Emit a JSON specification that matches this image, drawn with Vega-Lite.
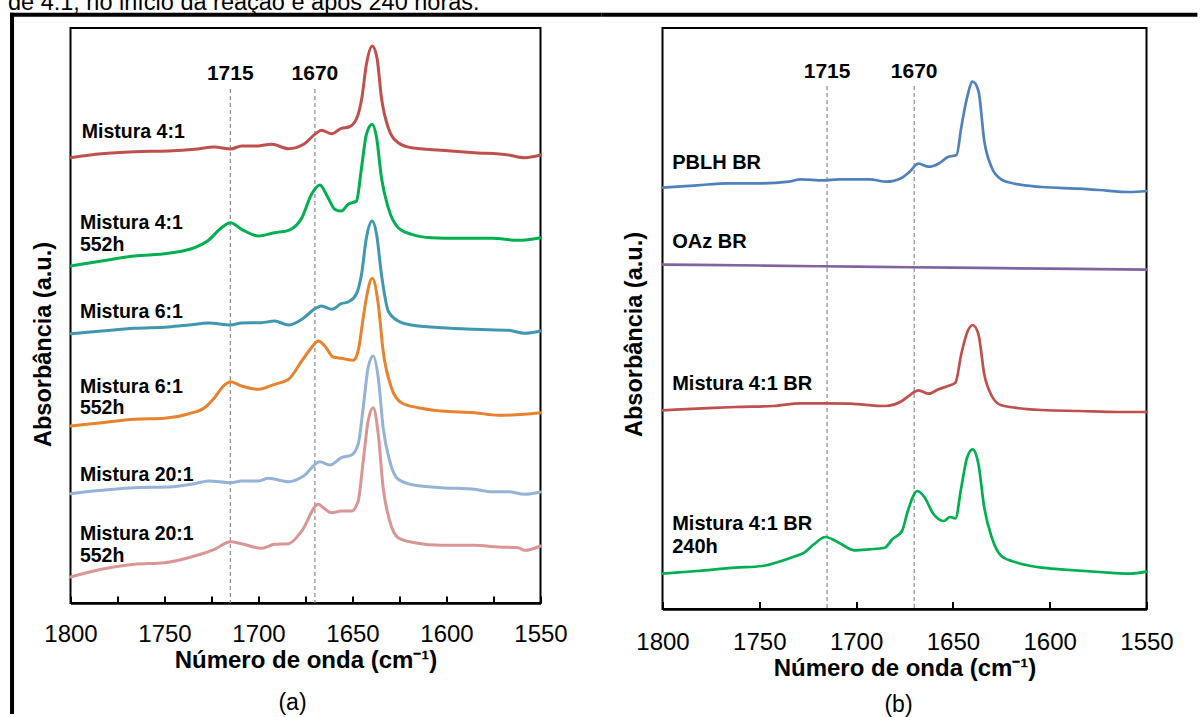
{
  "$schema": "https://vega.github.io/schema/vega-lite/v6.json",
  "padding": {"left": 6.5, "top": -9, "right": 0, "bottom": 0},
  "background": "white",
  "title": {
    "text": "de 4:1, no início da reação e após 240 horas.",
    "anchor": "start",
    "frame": "bounds",
    "fontSize": 23.5,
    "fontWeight": "normal",
    "color": "black",
    "baseline": "alphabetic",
    "offset": -24,
    "dx": 1
  },
  "config": {
    "font": "Liberation Sans",
    "view": {"stroke": "black", "strokeWidth": 2}
  },
  "spacing": 122,
  "bounds": "flush",
  "resolve": {"scale": {"x": "independent", "y": "independent", "color": "independent"}},
  "datasets": {
    "marcadores": [{"onda": 1715}, {"onda": 1670}],
    "espectros_a": [
      {"amostra": "Mistura 4:1", "onda": 1800, "abs": 445.3},
      {"amostra": "Mistura 4:1", "onda": 1783.5, "abs": 449.3},
      {"amostra": "Mistura 4:1", "onda": 1766, "abs": 451.3},
      {"amostra": "Mistura 4:1", "onda": 1748, "abs": 452},
      {"amostra": "Mistura 4:1", "onda": 1734, "abs": 453.7},
      {"amostra": "Mistura 4:1", "onda": 1723.4, "abs": 456},
      {"amostra": "Mistura 4:1", "onda": 1714.9, "abs": 454},
      {"amostra": "Mistura 4:1", "onda": 1709, "abs": 457},
      {"amostra": "Mistura 4:1", "onda": 1702, "abs": 457},
      {"amostra": "Mistura 4:1", "onda": 1693, "abs": 458.7},
      {"amostra": "Mistura 4:1", "onda": 1684, "abs": 454.3},
      {"amostra": "Mistura 4:1", "onda": 1676, "abs": 458.7},
      {"amostra": "Mistura 4:1", "onda": 1669, "abs": 470.3},
      {"amostra": "Mistura 4:1", "onda": 1666.5, "abs": 472.7},
      {"amostra": "Mistura 4:1", "onda": 1661, "abs": 469.3},
      {"amostra": "Mistura 4:1", "onda": 1656, "abs": 474.7},
      {"amostra": "Mistura 4:1", "onda": 1652, "abs": 476},
      {"amostra": "Mistura 4:1", "onda": 1648, "abs": 483.7},
      {"amostra": "Mistura 4:1", "onda": 1645, "abs": 505.3},
      {"amostra": "Mistura 4:1", "onda": 1642.6, "abs": 538.7},
      {"amostra": "Mistura 4:1", "onda": 1639.5, "abs": 557},
      {"amostra": "Mistura 4:1", "onda": 1637, "abs": 545.3},
      {"amostra": "Mistura 4:1", "onda": 1634.6, "abs": 505.3},
      {"amostra": "Mistura 4:1", "onda": 1631, "abs": 475.3},
      {"amostra": "Mistura 4:1", "onda": 1625.7, "abs": 460.3},
      {"amostra": "Mistura 4:1", "onda": 1618.6, "abs": 455.3},
      {"amostra": "Mistura 4:1", "onda": 1602.7, "abs": 452.7},
      {"amostra": "Mistura 4:1", "onda": 1585, "abs": 450.3},
      {"amostra": "Mistura 4:1", "onda": 1567, "abs": 448},
      {"amostra": "Mistura 4:1", "onda": 1558.5, "abs": 445.3},
      {"amostra": "Mistura 4:1", "onda": 1550, "abs": 448},

      {"amostra": "Mistura 4:1 552h", "onda": 1800, "abs": 337},
      {"amostra": "Mistura 4:1 552h", "onda": 1783.5, "abs": 342},
      {"amostra": "Mistura 4:1 552h", "onda": 1766, "abs": 347},
      {"amostra": "Mistura 4:1 552h", "onda": 1748, "abs": 349.7},
      {"amostra": "Mistura 4:1 552h", "onda": 1734, "abs": 355.3},
      {"amostra": "Mistura 4:1 552h", "onda": 1726.6, "abs": 362.7},
      {"amostra": "Mistura 4:1 552h", "onda": 1719.7, "abs": 375.3},
      {"amostra": "Mistura 4:1 552h", "onda": 1714.9, "abs": 380.3},
      {"amostra": "Mistura 4:1 552h", "onda": 1709, "abs": 373.7},
      {"amostra": "Mistura 4:1 552h", "onda": 1700, "abs": 367},
      {"amostra": "Mistura 4:1 552h", "onda": 1691.5, "abs": 370.3},
      {"amostra": "Mistura 4:1 552h", "onda": 1684, "abs": 372.7},
      {"amostra": "Mistura 4:1 552h", "onda": 1677, "abs": 385},
      {"amostra": "Mistura 4:1 552h", "onda": 1671.8, "abs": 408.7},
      {"amostra": "Mistura 4:1 552h", "onda": 1667.4, "abs": 418},
      {"amostra": "Mistura 4:1 552h", "onda": 1663, "abs": 405.3},
      {"amostra": "Mistura 4:1 552h", "onda": 1659.4, "abs": 393.7},
      {"amostra": "Mistura 4:1 552h", "onda": 1655.9, "abs": 392},
      {"amostra": "Mistura 4:1 552h", "onda": 1652.3, "abs": 398.7},
      {"amostra": "Mistura 4:1 552h", "onda": 1647.9, "abs": 402},
      {"amostra": "Mistura 4:1 552h", "onda": 1645.2, "abs": 435.3},
      {"amostra": "Mistura 4:1 552h", "onda": 1642.6, "abs": 468.7},
      {"amostra": "Mistura 4:1 552h", "onda": 1639.5, "abs": 478.7},
      {"amostra": "Mistura 4:1 552h", "onda": 1637.2, "abs": 465.3},
      {"amostra": "Mistura 4:1 552h", "onda": 1634.6, "abs": 425.3},
      {"amostra": "Mistura 4:1 552h", "onda": 1631, "abs": 395.3},
      {"amostra": "Mistura 4:1 552h", "onda": 1625.7, "abs": 375.3},
      {"amostra": "Mistura 4:1 552h", "onda": 1618.6, "abs": 368.7},
      {"amostra": "Mistura 4:1 552h", "onda": 1608, "abs": 365.3},
      {"amostra": "Mistura 4:1 552h", "onda": 1593.8, "abs": 364.7},
      {"amostra": "Mistura 4:1 552h", "onda": 1576, "abs": 364.7},
      {"amostra": "Mistura 4:1 552h", "onda": 1561.9, "abs": 362.7},
      {"amostra": "Mistura 4:1 552h", "onda": 1550, "abs": 365.3},

      {"amostra": "Mistura 6:1", "onda": 1800, "abs": 269.3},
      {"amostra": "Mistura 6:1", "onda": 1783.5, "abs": 272},
      {"amostra": "Mistura 6:1", "onda": 1766, "abs": 274.7},
      {"amostra": "Mistura 6:1", "onda": 1748, "abs": 276},
      {"amostra": "Mistura 6:1", "onda": 1737, "abs": 278},
      {"amostra": "Mistura 6:1", "onda": 1726.6, "abs": 280},
      {"amostra": "Mistura 6:1", "onda": 1714.9, "abs": 278},
      {"amostra": "Mistura 6:1", "onda": 1709, "abs": 280},
      {"amostra": "Mistura 6:1", "onda": 1698.4, "abs": 280.3},
      {"amostra": "Mistura 6:1", "onda": 1691.5, "abs": 282},
      {"amostra": "Mistura 6:1", "onda": 1684, "abs": 278},
      {"amostra": "Mistura 6:1", "onda": 1677, "abs": 283.7},
      {"amostra": "Mistura 6:1", "onda": 1669, "abs": 295.3},
      {"amostra": "Mistura 6:1", "onda": 1666.5, "abs": 297},
      {"amostra": "Mistura 6:1", "onda": 1661, "abs": 293.7},
      {"amostra": "Mistura 6:1", "onda": 1656, "abs": 299.3},
      {"amostra": "Mistura 6:1", "onda": 1652, "abs": 301.3},
      {"amostra": "Mistura 6:1", "onda": 1648, "abs": 308.7},
      {"amostra": "Mistura 6:1", "onda": 1645.2, "abs": 328.7},
      {"amostra": "Mistura 6:1", "onda": 1642.6, "abs": 365.3},
      {"amostra": "Mistura 6:1", "onda": 1639.5, "abs": 382},
      {"amostra": "Mistura 6:1", "onda": 1637.2, "abs": 368.7},
      {"amostra": "Mistura 6:1", "onda": 1634.6, "abs": 328.7},
      {"amostra": "Mistura 6:1", "onda": 1631, "abs": 292},
      {"amostra": "Mistura 6:1", "onda": 1625.7, "abs": 282},
      {"amostra": "Mistura 6:1", "onda": 1618.6, "abs": 278},
      {"amostra": "Mistura 6:1", "onda": 1602.7, "abs": 275.3},
      {"amostra": "Mistura 6:1", "onda": 1585, "abs": 273.7},
      {"amostra": "Mistura 6:1", "onda": 1567, "abs": 272.7},
      {"amostra": "Mistura 6:1", "onda": 1558.5, "abs": 269.7},
      {"amostra": "Mistura 6:1", "onda": 1550, "abs": 272},

      {"amostra": "Mistura 6:1 552h", "onda": 1800, "abs": 177},
      {"amostra": "Mistura 6:1 552h", "onda": 1783.5, "abs": 180.3},
      {"amostra": "Mistura 6:1 552h", "onda": 1766, "abs": 183.7},
      {"amostra": "Mistura 6:1 552h", "onda": 1750, "abs": 184.7},
      {"amostra": "Mistura 6:1 552h", "onda": 1737, "abs": 189.3},
      {"amostra": "Mistura 6:1 552h", "onda": 1728.7, "abs": 195.3},
      {"amostra": "Mistura 6:1 552h", "onda": 1723.4, "abs": 205.3},
      {"amostra": "Mistura 6:1 552h", "onda": 1718.6, "abs": 217},
      {"amostra": "Mistura 6:1 552h", "onda": 1714.9, "abs": 221.3},
      {"amostra": "Mistura 6:1 552h", "onda": 1709, "abs": 217},
      {"amostra": "Mistura 6:1 552h", "onda": 1700, "abs": 213.7},
      {"amostra": "Mistura 6:1 552h", "onda": 1691.5, "abs": 218.7},
      {"amostra": "Mistura 6:1 552h", "onda": 1684, "abs": 223.7},
      {"amostra": "Mistura 6:1 552h", "onda": 1677, "abs": 242},
      {"amostra": "Mistura 6:1 552h", "onda": 1672, "abs": 255},
      {"amostra": "Mistura 6:1 552h", "onda": 1668.2, "abs": 262},
      {"amostra": "Mistura 6:1 552h", "onda": 1664.7, "abs": 257},
      {"amostra": "Mistura 6:1 552h", "onda": 1660.3, "abs": 246},
      {"amostra": "Mistura 6:1 552h", "onda": 1655.9, "abs": 244.7},
      {"amostra": "Mistura 6:1 552h", "onda": 1649.6, "abs": 242.7},
      {"amostra": "Mistura 6:1 552h", "onda": 1647, "abs": 252},
      {"amostra": "Mistura 6:1 552h", "onda": 1644.3, "abs": 285.3},
      {"amostra": "Mistura 6:1 552h", "onda": 1642.6, "abs": 305.3},
      {"amostra": "Mistura 6:1 552h", "onda": 1639.5, "abs": 324.7},
      {"amostra": "Mistura 6:1 552h", "onda": 1636.3, "abs": 298.7},
      {"amostra": "Mistura 6:1 552h", "onda": 1633.7, "abs": 252},
      {"amostra": "Mistura 6:1 552h", "onda": 1629.3, "abs": 215.3},
      {"amostra": "Mistura 6:1 552h", "onda": 1624, "abs": 200.3},
      {"amostra": "Mistura 6:1 552h", "onda": 1615, "abs": 195.3},
      {"amostra": "Mistura 6:1 552h", "onda": 1602.7, "abs": 192},
      {"amostra": "Mistura 6:1 552h", "onda": 1585, "abs": 190.3},
      {"amostra": "Mistura 6:1 552h", "onda": 1572.5, "abs": 187.7},
      {"amostra": "Mistura 6:1 552h", "onda": 1558.5, "abs": 188.7},
      {"amostra": "Mistura 6:1 552h", "onda": 1550, "abs": 190.3},

      {"amostra": "Mistura 20:1", "onda": 1800, "abs": 109.3},
      {"amostra": "Mistura 20:1", "onda": 1783.5, "abs": 112.7},
      {"amostra": "Mistura 20:1", "onda": 1766, "abs": 115.3},
      {"amostra": "Mistura 20:1", "onda": 1748, "abs": 116},
      {"amostra": "Mistura 20:1", "onda": 1734, "abs": 119.3},
      {"amostra": "Mistura 20:1", "onda": 1726.6, "abs": 122},
      {"amostra": "Mistura 20:1", "onda": 1714.9, "abs": 120.3},
      {"amostra": "Mistura 20:1", "onda": 1709, "abs": 122},
      {"amostra": "Mistura 20:1", "onda": 1700, "abs": 122},
      {"amostra": "Mistura 20:1", "onda": 1694.7, "abs": 124.7},
      {"amostra": "Mistura 20:1", "onda": 1684, "abs": 121.3},
      {"amostra": "Mistura 20:1", "onda": 1676, "abs": 127},
      {"amostra": "Mistura 20:1", "onda": 1667.4, "abs": 141.3},
      {"amostra": "Mistura 20:1", "onda": 1662, "abs": 138},
      {"amostra": "Mistura 20:1", "onda": 1655.9, "abs": 145.3},
      {"amostra": "Mistura 20:1", "onda": 1650.5, "abs": 148},
      {"amostra": "Mistura 20:1", "onda": 1647, "abs": 158.7},
      {"amostra": "Mistura 20:1", "onda": 1644.3, "abs": 195.3},
      {"amostra": "Mistura 20:1", "onda": 1641.7, "abs": 235.3},
      {"amostra": "Mistura 20:1", "onda": 1639, "abs": 247},
      {"amostra": "Mistura 20:1", "onda": 1636.3, "abs": 225.3},
      {"amostra": "Mistura 20:1", "onda": 1633.7, "abs": 175.3},
      {"amostra": "Mistura 20:1", "onda": 1630.2, "abs": 142},
      {"amostra": "Mistura 20:1", "onda": 1625.7, "abs": 123.7},
      {"amostra": "Mistura 20:1", "onda": 1616.9, "abs": 117.7},
      {"amostra": "Mistura 20:1", "onda": 1602.7, "abs": 115.3},
      {"amostra": "Mistura 20:1", "onda": 1585, "abs": 113.7},
      {"amostra": "Mistura 20:1", "onda": 1576, "abs": 111.3},
      {"amostra": "Mistura 20:1", "onda": 1567.2, "abs": 111.3},
      {"amostra": "Mistura 20:1", "onda": 1558.4, "abs": 108.7},
      {"amostra": "Mistura 20:1", "onda": 1550, "abs": 111},

      {"amostra": "Mistura 20:1 552h", "onda": 1800, "abs": 26},
      {"amostra": "Mistura 20:1 552h", "onda": 1783.5, "abs": 33.7},
      {"amostra": "Mistura 20:1 552h", "onda": 1766, "abs": 38.7},
      {"amostra": "Mistura 20:1 552h", "onda": 1750, "abs": 40.3},
      {"amostra": "Mistura 20:1 552h", "onda": 1734, "abs": 47},
      {"amostra": "Mistura 20:1 552h", "onda": 1723.4, "abs": 53.7},
      {"amostra": "Mistura 20:1 552h", "onda": 1714.9, "abs": 61.3},
      {"amostra": "Mistura 20:1 552h", "onda": 1709, "abs": 59.3},
      {"amostra": "Mistura 20:1 552h", "onda": 1698.4, "abs": 54.7},
      {"amostra": "Mistura 20:1 552h", "onda": 1691.5, "abs": 58.7},
      {"amostra": "Mistura 20:1 552h", "onda": 1684, "abs": 59.3},
      {"amostra": "Mistura 20:1 552h", "onda": 1677, "abs": 72},
      {"amostra": "Mistura 20:1 552h", "onda": 1668.2, "abs": 98.7},
      {"amostra": "Mistura 20:1 552h", "onda": 1665.6, "abs": 95.3},
      {"amostra": "Mistura 20:1 552h", "onda": 1661, "abs": 90.3},
      {"amostra": "Mistura 20:1 552h", "onda": 1655.9, "abs": 92},
      {"amostra": "Mistura 20:1 552h", "onda": 1650.5, "abs": 92},
      {"amostra": "Mistura 20:1 552h", "onda": 1647, "abs": 102},
      {"amostra": "Mistura 20:1 552h", "onda": 1644.3, "abs": 142},
      {"amostra": "Mistura 20:1 552h", "onda": 1641.7, "abs": 182},
      {"amostra": "Mistura 20:1 552h", "onda": 1639, "abs": 195.3},
      {"amostra": "Mistura 20:1 552h", "onda": 1636.3, "abs": 168.7},
      {"amostra": "Mistura 20:1 552h", "onda": 1633.7, "abs": 115.3},
      {"amostra": "Mistura 20:1 552h", "onda": 1630.2, "abs": 82},
      {"amostra": "Mistura 20:1 552h", "onda": 1625.7, "abs": 65.3},
      {"amostra": "Mistura 20:1 552h", "onda": 1616.9, "abs": 60.3},
      {"amostra": "Mistura 20:1 552h", "onda": 1602.7, "abs": 57.7},
      {"amostra": "Mistura 20:1 552h", "onda": 1585, "abs": 57.7},
      {"amostra": "Mistura 20:1 552h", "onda": 1572.5, "abs": 56},
      {"amostra": "Mistura 20:1 552h", "onda": 1561.9, "abs": 55.3},
      {"amostra": "Mistura 20:1 552h", "onda": 1558.4, "abs": 52.7},
      {"amostra": "Mistura 20:1 552h", "onda": 1550, "abs": 57}
    ],
    "espectros_b": [
      {"amostra": "PBLH BR", "onda": 1800, "abs": 421.3},
      {"amostra": "PBLH BR", "onda": 1782.1, "abs": 423.7},
      {"amostra": "PBLH BR", "onda": 1766.3, "abs": 425.7},
      {"amostra": "PBLH BR", "onda": 1748.5, "abs": 425.7},
      {"amostra": "PBLH BR", "onda": 1734.7, "abs": 427.3},
      {"amostra": "PBLH BR", "onda": 1728.7, "abs": 429.7},
      {"amostra": "PBLH BR", "onda": 1716.8, "abs": 428.7},
      {"amostra": "PBLH BR", "onda": 1708.9, "abs": 429.7},
      {"amostra": "PBLH BR", "onda": 1693.1, "abs": 429.7},
      {"amostra": "PBLH BR", "onda": 1684.3, "abs": 427.3},
      {"amostra": "PBLH BR", "onda": 1676.3, "abs": 431.3},
      {"amostra": "PBLH BR", "onda": 1672.4, "abs": 437.3},
      {"amostra": "PBLH BR", "onda": 1667.8, "abs": 445.3},
      {"amostra": "PBLH BR", "onda": 1662.5, "abs": 442.3},
      {"amostra": "PBLH BR", "onda": 1657.5, "abs": 445.3},
      {"amostra": "PBLH BR", "onda": 1652.6, "abs": 452},
      {"amostra": "PBLH BR", "onda": 1648.1, "abs": 454},
      {"amostra": "PBLH BR", "onda": 1645.7, "abs": 481.3},
      {"amostra": "PBLH BR", "onda": 1642.7, "abs": 511.3},
      {"amostra": "PBLH BR", "onda": 1639.8, "abs": 527.3},
      {"amostra": "PBLH BR", "onda": 1636.8, "abs": 518},
      {"amostra": "PBLH BR", "onda": 1633.8, "abs": 468},
      {"amostra": "PBLH BR", "onda": 1629.9, "abs": 441.3},
      {"amostra": "PBLH BR", "onda": 1625, "abs": 429.7},
      {"amostra": "PBLH BR", "onda": 1618, "abs": 425.3},
      {"amostra": "PBLH BR", "onda": 1604.2, "abs": 422},
      {"amostra": "PBLH BR", "onda": 1584.4, "abs": 420.3},
      {"amostra": "PBLH BR", "onda": 1574.5, "abs": 419},
      {"amostra": "PBLH BR", "onda": 1558.7, "abs": 417},
      {"amostra": "PBLH BR", "onda": 1550, "abs": 418},

      {"amostra": "OAz BR", "onda": 1800, "abs": 344.3},
      {"amostra": "OAz BR", "onda": 1750, "abs": 343.5},
      {"amostra": "OAz BR", "onda": 1700, "abs": 342.3},
      {"amostra": "OAz BR", "onda": 1650, "abs": 341.3},
      {"amostra": "OAz BR", "onda": 1600, "abs": 340.3},
      {"amostra": "OAz BR", "onda": 1550, "abs": 339.3},

      {"amostra": "Mistura 4:1 BR", "onda": 1800, "abs": 198.7},
      {"amostra": "Mistura 4:1 BR", "onda": 1782.1, "abs": 200.3},
      {"amostra": "Mistura 4:1 BR", "onda": 1762.3, "abs": 202},
      {"amostra": "Mistura 4:1 BR", "onda": 1742.6, "abs": 203},
      {"amostra": "Mistura 4:1 BR", "onda": 1728.7, "abs": 205.7},
      {"amostra": "Mistura 4:1 BR", "onda": 1716.8, "abs": 205.7},
      {"amostra": "Mistura 4:1 BR", "onda": 1703, "abs": 205.3},
      {"amostra": "Mistura 4:1 BR", "onda": 1685.2, "abs": 203},
      {"amostra": "Mistura 4:1 BR", "onda": 1676.3, "abs": 208},
      {"amostra": "Mistura 4:1 BR", "onda": 1672.4, "abs": 213.7},
      {"amostra": "Mistura 4:1 BR", "onda": 1667.8, "abs": 218.7},
      {"amostra": "Mistura 4:1 BR", "onda": 1662.5, "abs": 215.3},
      {"amostra": "Mistura 4:1 BR", "onda": 1657.5, "abs": 219.7},
      {"amostra": "Mistura 4:1 BR", "onda": 1652.6, "abs": 223},
      {"amostra": "Mistura 4:1 BR", "onda": 1648.7, "abs": 226.3},
      {"amostra": "Mistura 4:1 BR", "onda": 1645.7, "abs": 254.7},
      {"amostra": "Mistura 4:1 BR", "onda": 1642.7, "abs": 276.3},
      {"amostra": "Mistura 4:1 BR", "onda": 1639.8, "abs": 284},
      {"amostra": "Mistura 4:1 BR", "onda": 1636.8, "abs": 274.7},
      {"amostra": "Mistura 4:1 BR", "onda": 1633.8, "abs": 234.7},
      {"amostra": "Mistura 4:1 BR", "onda": 1629.9, "abs": 213},
      {"amostra": "Mistura 4:1 BR", "onda": 1625, "abs": 203.7},
      {"amostra": "Mistura 4:1 BR", "onda": 1618, "abs": 201.3},
      {"amostra": "Mistura 4:1 BR", "onda": 1604.2, "abs": 199},
      {"amostra": "Mistura 4:1 BR", "onda": 1584.4, "abs": 198},
      {"amostra": "Mistura 4:1 BR", "onda": 1564.7, "abs": 197},
      {"amostra": "Mistura 4:1 BR", "onda": 1550, "abs": 197},

      {"amostra": "Mistura 4:1 BR 240h", "onda": 1800, "abs": 35.3},
      {"amostra": "Mistura 4:1 BR 240h", "onda": 1782.1, "abs": 38},
      {"amostra": "Mistura 4:1 BR 240h", "onda": 1762.3, "abs": 41.3},
      {"amostra": "Mistura 4:1 BR 240h", "onda": 1748.5, "abs": 43},
      {"amostra": "Mistura 4:1 BR 240h", "onda": 1738.6, "abs": 48},
      {"amostra": "Mistura 4:1 BR 240h", "onda": 1732.6, "abs": 52},
      {"amostra": "Mistura 4:1 BR 240h", "onda": 1726.8, "abs": 56.3},
      {"amostra": "Mistura 4:1 BR 240h", "onda": 1721.8, "abs": 64.7},
      {"amostra": "Mistura 4:1 BR 240h", "onda": 1715.9, "abs": 72},
      {"amostra": "Mistura 4:1 BR 240h", "onda": 1708.9, "abs": 66.3},
      {"amostra": "Mistura 4:1 BR 240h", "onda": 1701, "abs": 58.7},
      {"amostra": "Mistura 4:1 BR 240h", "onda": 1693.1, "abs": 59.7},
      {"amostra": "Mistura 4:1 BR 240h", "onda": 1685.2, "abs": 61.3},
      {"amostra": "Mistura 4:1 BR 240h", "onda": 1681.3, "abs": 69.7},
      {"amostra": "Mistura 4:1 BR 240h", "onda": 1676.3, "abs": 78},
      {"amostra": "Mistura 4:1 BR 240h", "onda": 1673.3, "abs": 98},
      {"amostra": "Mistura 4:1 BR 240h", "onda": 1668.4, "abs": 118},
      {"amostra": "Mistura 4:1 BR 240h", "onda": 1664.5, "abs": 111.3},
      {"amostra": "Mistura 4:1 BR 240h", "onda": 1660.5, "abs": 96.3},
      {"amostra": "Mistura 4:1 BR 240h", "onda": 1654.6, "abs": 88},
      {"amostra": "Mistura 4:1 BR 240h", "onda": 1651.6, "abs": 92},
      {"amostra": "Mistura 4:1 BR 240h", "onda": 1648.7, "abs": 90.7},
      {"amostra": "Mistura 4:1 BR 240h", "onda": 1645.7, "abs": 121.3},
      {"amostra": "Mistura 4:1 BR 240h", "onda": 1642.7, "abs": 151.3},
      {"amostra": "Mistura 4:1 BR 240h", "onda": 1639.8, "abs": 159.7},
      {"amostra": "Mistura 4:1 BR 240h", "onda": 1636.8, "abs": 144.7},
      {"amostra": "Mistura 4:1 BR 240h", "onda": 1633.8, "abs": 101.3},
      {"amostra": "Mistura 4:1 BR 240h", "onda": 1629.9, "abs": 71.3},
      {"amostra": "Mistura 4:1 BR 240h", "onda": 1625, "abs": 53},
      {"amostra": "Mistura 4:1 BR 240h", "onda": 1618, "abs": 47},
      {"amostra": "Mistura 4:1 BR 240h", "onda": 1604.2, "abs": 41.3},
      {"amostra": "Mistura 4:1 BR 240h", "onda": 1594.3, "abs": 39.7},
      {"amostra": "Mistura 4:1 BR 240h", "onda": 1574.5, "abs": 37},
      {"amostra": "Mistura 4:1 BR 240h", "onda": 1558.7, "abs": 35.3},
      {"amostra": "Mistura 4:1 BR 240h", "onda": 1550, "abs": 37.3}
    ],
    "rotulos_a": [
      {"texto": "Mistura 4:1", "onda": 1794, "abs": 464.7},
      {"texto": "Mistura 4:1\n552h", "onda": 1795, "abs": 373.7},
      {"texto": "Mistura 6:1", "onda": 1795, "abs": 285.3},
      {"texto": "Mistura 6:1\n552h", "onda": 1795, "abs": 210.3},
      {"texto": "Mistura 20:1", "onda": 1795, "abs": 122},
      {"texto": "Mistura 20:1\n552h", "onda": 1795, "abs": 62.7}
    ],
    "rotulos_b": [
      {"texto": "PBLH BR", "onda": 1795, "abs": 439.7},
      {"texto": "OAz BR", "onda": 1795, "abs": 360.7},
      {"texto": "Mistura 4:1 BR", "onda": 1795, "abs": 218.7},
      {"texto": "Mistura 4:1 BR\n240h", "onda": 1795, "abs": 78.7}
    ]
  },
  "hconcat": [
    {
      "width": 470,
      "height": 575,
      "title": {"text": "(a)", "orient": "bottom", "anchor": "middle", "fontSize": 23, "fontWeight": "normal", "color": "black", "baseline": "alphabetic", "offset": -6, "dx": -13},
      "layer": [
        {
          "data": {"values": [{}]},
          "mark": {"type": "rule", "color": "black", "strokeWidth": 4, "strokeCap": "butt"},
          "encoding": {
            "x": {"datum": 1831.1, "type": "quantitative", "scale": {"domain": [1800, 1550], "nice": false, "zero": false}},
            "y": {"datum": 590.3, "type": "quantitative", "scale": {"domain": [0, 575], "nice": false}},
            "y2": {"datum": -111}
          }
        },
        {
          "data": {"values": [{}]},
          "mark": {"type": "rule", "color": "black", "strokeWidth": 4, "strokeCap": "butt"},
          "encoding": {
            "x": {"datum": 1832.2, "type": "quantitative", "scale": {"domain": [1800, 1550], "nice": false, "zero": false}},
            "x2": {"datum": 1517.5},
            "y": {"datum": 588.3, "type": "quantitative", "scale": {"domain": [0, 575], "nice": false}}
          }
        },
        {
          "data": {"name": "marcadores"},
          "mark": {"type": "rule", "color": "#808080", "strokeWidth": 1.1, "strokeDash": [4, 3]},
          "encoding": {
            "x": {"field": "onda", "type": "quantitative", "scale": {"domain": [1800, 1550], "nice": false, "zero": false}},
            "y": {"datum": 514, "type": "quantitative", "scale": {"domain": [0, 575], "nice": false}},
            "y2": {"datum": 0}
          }
        },
        {
          "data": {"name": "marcadores"},
          "mark": {"type": "text", "fontSize": 21, "fontWeight": "bold", "color": "black", "align": "center", "baseline": "alphabetic"},
          "encoding": {
            "x": {"field": "onda", "type": "quantitative", "scale": {"domain": [1800, 1550], "nice": false, "zero": false}},
            "y": {"datum": 523, "type": "quantitative", "scale": {"domain": [0, 575], "nice": false}},
            "text": {"field": "onda", "type": "quantitative", "format": "d"}
          }
        },
        {
          "data": {"name": "espectros_a"},
          "mark": {"type": "line", "strokeWidth": 3, "interpolate": "monotone", "strokeJoin": "round", "strokeCap": "round"},
          "encoding": {
            "x": {
              "field": "onda", "type": "quantitative",
              "scale": {"domain": [1800, 1550], "nice": false, "zero": false},
              "axis": {
                "values": [1800, 1775, 1750, 1725, 1700, 1675, 1650, 1625, 1600, 1575, 1550],
                "format": "d",
                "labelExpr": "datum.value % 50 === 0 ? datum.label : ''",
                "grid": false,
                "domainColor": "black", "domainWidth": 2.5,
                "tickColor": "black", "tickWidth": 2, "tickSize": -7,
                "labelFontSize": 24, "labelColor": "black", "labelFlush": false, "labelOverlap": false, "labelBound": false, "labelPadding": 26.5,
                "title": "Número de onda (cm⁻¹)", "titleFontSize": 24, "titleFontWeight": "bold", "titleColor": "black", "titlePadding": 2
              }
            },
            "y": {
              "field": "abs", "type": "quantitative",
              "scale": {"domain": [0, 575], "nice": false},
              "axis": {
                "labels": false, "ticks": false, "domain": false, "grid": false,
                "title": "Absorbância (a.u.)", "titleFontSize": 23.5, "titleFontWeight": "bold", "titleColor": "black",
                "titlePadding": 15.5, "titleY": 316
              }
            },
            "color": {
              "field": "amostra", "type": "nominal", "legend": null,
              "scale": {
                "domain": ["Mistura 4:1", "Mistura 4:1 552h", "Mistura 6:1", "Mistura 6:1 552h", "Mistura 20:1", "Mistura 20:1 552h"],
                "range": ["#C0504D", "#00B050", "#3F97B0", "#E8822E", "#95B3D7", "#D99694"]
              }
            }
          }
        },
        {
          "data": {"name": "rotulos_a"},
          "mark": {"type": "text", "fontSize": 19.5, "fontWeight": "bold", "color": "black", "align": "left", "baseline": "alphabetic", "lineBreak": "\n", "lineHeight": 21.5},
          "encoding": {
            "x": {"field": "onda", "type": "quantitative", "scale": {"domain": [1800, 1550], "nice": false, "zero": false}},
            "y": {"field": "abs", "type": "quantitative", "scale": {"domain": [0, 575], "nice": false}},
            "text": {"field": "texto", "type": "nominal"}
          }
        }
      ]
    },
    {
      "width": 484,
      "height": 581,
      "title": {"text": "(b)", "orient": "bottom", "anchor": "middle", "fontSize": 23, "fontWeight": "normal", "color": "black", "baseline": "alphabetic", "offset": 31.5, "dx": -6},
      "layer": [
        {
          "data": {"values": [{}]},
          "mark": {"type": "rule", "color": "black", "strokeWidth": 4, "strokeCap": "butt"},
          "encoding": {
            "x": {"datum": 1831.5, "type": "quantitative", "scale": {"domain": [1800, 1550], "nice": false, "zero": false}},
            "x2": {"datum": 1523.7},
            "y": {"datum": 594.3, "type": "quantitative", "scale": {"domain": [0, 581], "nice": false}}
          }
        },
        {
          "data": {"name": "marcadores"},
          "mark": {"type": "rule", "color": "#808080", "strokeWidth": 1.1, "strokeDash": [4, 3]},
          "encoding": {
            "x": {"field": "onda", "type": "quantitative", "scale": {"domain": [1800, 1550], "nice": false, "zero": false}},
            "y": {"datum": 523, "type": "quantitative", "scale": {"domain": [0, 581], "nice": false}},
            "y2": {"datum": 0}
          }
        },
        {
          "data": {"name": "marcadores"},
          "mark": {"type": "text", "fontSize": 21, "fontWeight": "bold", "color": "black", "align": "center", "baseline": "alphabetic"},
          "encoding": {
            "x": {"field": "onda", "type": "quantitative", "scale": {"domain": [1800, 1550], "nice": false, "zero": false}},
            "y": {"datum": 531, "type": "quantitative", "scale": {"domain": [0, 581], "nice": false}},
            "text": {"field": "onda", "type": "quantitative", "format": "d"}
          }
        },
        {
          "data": {"name": "espectros_b"},
          "mark": {"type": "line", "strokeWidth": 2.7, "interpolate": "monotone", "strokeJoin": "round", "strokeCap": "round"},
          "encoding": {
            "x": {
              "field": "onda", "type": "quantitative",
              "scale": {"domain": [1800, 1550], "nice": false, "zero": false},
              "axis": {
                "values": [1800, 1750, 1700, 1650, 1600, 1550],
                "format": "d",
                "grid": false,
                "domainColor": "black", "domainWidth": 2.5,
                "tickColor": "black", "tickWidth": 2, "tickSize": -7.5,
                "labelFontSize": 24, "labelColor": "black", "labelFlush": false, "labelOverlap": false, "labelBound": false, "labelPadding": 28.5,
                "title": "Número de onda (cm⁻¹)", "titleFontSize": 24, "titleFontWeight": "bold", "titleColor": "black", "titlePadding": 2
              }
            },
            "y": {
              "field": "abs", "type": "quantitative",
              "scale": {"domain": [0, 581], "nice": false},
              "axis": {
                "labels": false, "ticks": false, "domain": false, "grid": false,
                "title": "Absorbância (a.u.)", "titleFontSize": 23.5, "titleFontWeight": "bold", "titleColor": "black",
                "titlePadding": 16, "titleY": 306
              }
            },
            "color": {
              "field": "amostra", "type": "nominal", "legend": null,
              "scale": {
                "domain": ["PBLH BR", "OAz BR", "Mistura 4:1 BR", "Mistura 4:1 BR 240h"],
                "range": ["#4F81BD", "#8064A2", "#C0504D", "#00B050"]
              }
            }
          }
        },
        {
          "data": {"name": "rotulos_b"},
          "mark": {"type": "text", "fontSize": 20, "fontWeight": "bold", "color": "black", "align": "left", "baseline": "alphabetic", "lineBreak": "\n", "lineHeight": 22.4},
          "encoding": {
            "x": {"field": "onda", "type": "quantitative", "scale": {"domain": [1800, 1550], "nice": false, "zero": false}},
            "y": {"field": "abs", "type": "quantitative", "scale": {"domain": [0, 581], "nice": false}},
            "text": {"field": "texto", "type": "nominal"}
          }
        }
      ]
    }
  ]
}
